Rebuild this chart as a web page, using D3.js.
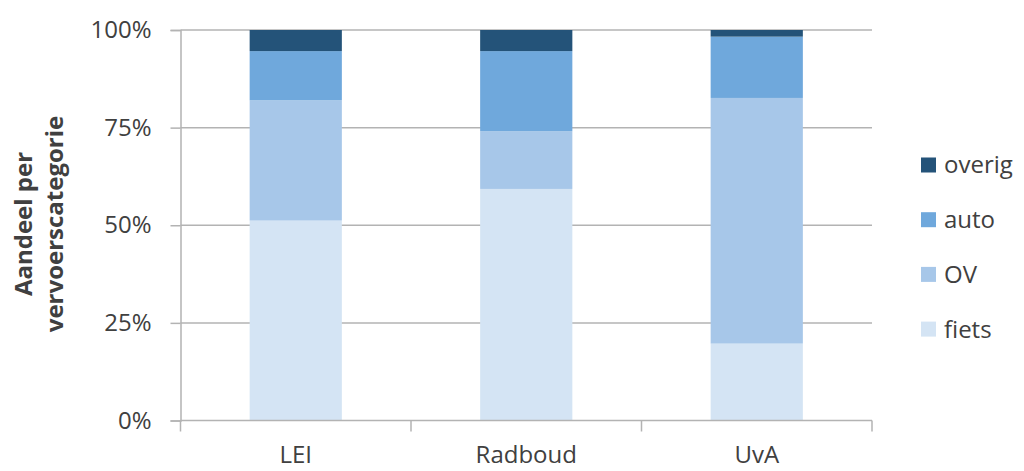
<!DOCTYPE html>
<html>
<head>
<meta charset="utf-8">
<script src="https://cdn.jsdelivr.net/npm/d3@7"></script>
<style>
  html, body { margin: 0; padding: 0; background: #fff; }
  svg { display: block; }
  text { font-family: "Open Sans", "Liberation Sans", sans-serif; fill: #404040; }
</style>
</head>
<body>
<svg id="chart" width="1024" height="471"></svg>
<script>
const categories = ["LEI", "Radboud", "UvA"];
const seriesNames = ["fiets", "OV", "auto", "overig"];
const fiets  = [51.2, 59.3, 19.7];
const ov     = [30.8, 14.8, 62.9];
const auto   = [12.6, 20.5, 15.7];
const overig = [5.4, 5.4, 1.7];
const yTicks = [0, 25, 50, 75, 100];
const tickLabels = ["0%", "25%", "50%", "75%", "100%"];
const colors = ["#D4E4F4", "#A7C7E9", "#6FA8DC", "#245379"];

(function () {
const rows = categories.map((c, i) => ({
  cat: c, fiets: fiets[i], OV: ov[i], auto: auto[i], overig: overig[i]
}));

const svg = d3.select("#chart");
const pLeft = 180.5, pRight = 872, pTop = 30, pBottom = 420.5;

const x = d3.scaleBand().domain(categories).range([pLeft, pRight]).paddingInner(0.6).paddingOuter(0.3);
const y = d3.scaleLinear().domain([0, 100]).range([pBottom, pTop]);
const color = d3.scaleOrdinal().domain(seriesNames).range(colors);

// gridlines
svg.append("g").selectAll("line").data(yTicks.slice(1)).join("line")
  .attr("x1", pLeft).attr("x2", pRight)
  .attr("y1", d => y(d)).attr("y2", d => y(d))
  .attr("stroke", "#B3B3B3").attr("stroke-width", 1.5);

// stacked bars
const stack = d3.stack().keys(seriesNames)(rows);
svg.append("g").selectAll("g").data(stack).join("g")
  .attr("fill", d => color(d.key))
  .selectAll("rect").data(d => d).join("rect")
  .attr("x", d => x(d.data.cat))
  .attr("width", x.bandwidth())
  .attr("y", d => y(d[1]))
  .attr("height", d => y(d[0]) - y(d[1]));

// y axis
const yAxis = svg.append("g").attr("transform", `translate(${pLeft},0)`)
  .call(d3.axisLeft(y).tickValues(yTicks).tickFormat((d, i) => tickLabels[i]).tickSize(10).tickPadding(19));
yAxis.select(".domain").attr("stroke", "#B3B3B3").attr("stroke-width", 1.5);
yAxis.selectAll(".tick line").attr("stroke", "#B3B3B3").attr("stroke-width", 1.5);
yAxis.selectAll(".tick text").attr("font-size", 24).attr("fill", "#404040")
  .attr("font-family", "'Open Sans', sans-serif");

// x axis
const xAxis = svg.append("g").attr("transform", `translate(0,${pBottom})`)
  .call(d3.axisBottom(x).tickSize(0).tickPadding(25));
xAxis.select(".domain").remove();
xAxis.append("line").attr("x1", pLeft).attr("x2", pRight).attr("y1", 0).attr("y2", 0)
  .attr("stroke", "#B3B3B3").attr("stroke-width", 1.5);
const gap = (x.step() - x.bandwidth()) / 2;
const bounds = [pLeft].concat(categories.slice(1).map(c => x(c) - gap), [pRight]);
xAxis.selectAll(".bound").data(bounds)
  .join("line").attr("class", "bound")
  .attr("x1", d => d).attr("x2", d => d).attr("y1", 0).attr("y2", 11)
  .attr("stroke", "#B3B3B3").attr("stroke-width", 1.5);
xAxis.selectAll(".tick text").attr("font-size", 24).attr("fill", "#404040")
  .attr("font-family", "'Open Sans', sans-serif").attr("dy", "0.71em");

// y title
const title = svg.append("text")
  .attr("transform", `translate(0,224) rotate(-90)`)
  .attr("text-anchor", "middle")
  .attr("font-weight", "bold").attr("font-size", 24).attr("fill", "#262626");
title.append("tspan").attr("x", 0).attr("y", 32).text("Aandeel per");
title.append("tspan").attr("x", 0).attr("y", 63).text("vervoerscategorie");

// legend
const legendNames = seriesNames.slice().reverse();
const lg = svg.append("g").selectAll("g").data(legendNames).join("g")
  .attr("transform", (d, i) => `translate(921,${165 + i * 54.7})`);
lg.append("rect").attr("x", 0).attr("y", -7.5).attr("width", 15).attr("height", 15)
  .attr("fill", d => color(d));
lg.append("text").attr("x", 23).attr("y", 0).attr("dy", "0.35em")
  .attr("font-size", 24).attr("fill", "#404040").text(d => d);
})();
</script>
</body>
</html>
